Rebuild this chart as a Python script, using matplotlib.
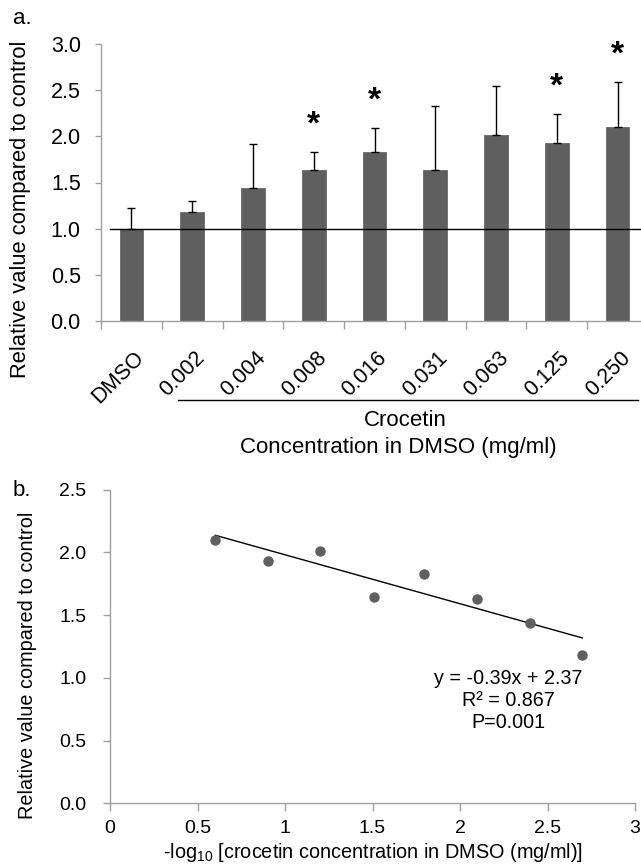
import numpy as np
import matplotlib
matplotlib.use("Agg")
import matplotlib.pyplot as plt
from matplotlib.lines import Line2D
from matplotlib.transforms import ScaledTranslation

plt.rcParams['font.family'] = ['Liberation Sans', 'DejaVu Sans']
plt.rcParams['mathtext.default'] = 'regular'

# ---- data (panel a) ----
categories = ["DMSO", "0.002", "0.004", "0.008", "0.016", "0.031", "0.063", "0.125", "0.250"]
concentrations = [0.002, 0.004, 0.008, 0.016, 0.031, 0.063, 0.125, 0.250]
means = [1.00, 1.18, 1.44, 1.63, 1.83, 1.64, 2.01, 1.93, 2.10]
err_top = [1.22, 1.30, 1.92, 1.83, 2.09, 2.33, 2.55, 2.24, 2.59]
significant = ["0.008", "0.016", "0.125", "0.250"]

# ---- data (panel b) ----
slope = -0.39
intercept = 2.37
r2_text = "0.867"
p_text = "0.001"

W, H = 641, 865
fig = plt.figure(figsize=(W / 100, H / 100), dpi=100)

def px_axes(left, top, right, bottom):
    return fig.add_axes([left / W, 1 - bottom / H, (right - left) / W, (bottom - top) / H])

spine_col = '#a0a0a0'
bar_col = '#5f5f5f'

# ---------------- panel a ----------------
ax = px_axes(101, 44, 648, 321)
x = np.arange(len(categories))
yerr = [np.zeros(len(means)), np.array(err_top) - np.array(means)]
ax.bar(x, means, width=0.39, color=bar_col, edgecolor='#6a6a6a', linewidth=0.6, zorder=2)
ax.errorbar(x, means, yerr=yerr, fmt='none', ecolor='black', elinewidth=1.0,
            capsize=2.8, capthick=1.0, zorder=3)
ax.axhline(1.0, xmin=0.016, xmax=1, color='black', lw=1.0, zorder=4)

for i, c in enumerate(categories):
    if c in significant:
        ax.annotate('*', xy=(i, err_top[i]), xytext=(0, 8), textcoords='offset points',
                    ha='center', va='bottom', fontsize=24, fontweight='bold')

ax.set_xlim(-0.5, len(categories) - 0.5)
ax.set_ylim(0, 3.0)
ax.set_yticks(np.arange(0, 3.01, 0.5))
ax.set_yticklabels([f"{v:.1f}" for v in np.arange(0, 3.01, 0.5)], fontsize=15.5)
ax.set_xticks(x)
ax.set_xticklabels(categories, rotation=45, ha='right', va='top',
                   rotation_mode='anchor', fontsize=15.5)
ax.set_xticks(np.arange(-0.5, len(categories) + 0.5, 1), minor=True)
ax.tick_params(axis='x', which='major', length=0, pad=19)
ax.tick_params(axis='x', which='minor', length=6, color=spine_col, width=1)
ax.tick_params(axis='y', length=4, color=spine_col, width=1, pad=10.5)
offset = ScaledTranslation(2 / 100, 0, fig.dpi_scale_trans)
for lab in ax.get_xticklabels():
    lab.set_transform(lab.get_transform() + offset)
for s in ['top', 'right']:
    ax.spines[s].set_visible(False)
for s in ['left', 'bottom']:
    ax.spines[s].set_color(spine_col)
    ax.spines[s].set_linewidth(1.0)

ax.set_ylabel("Relative value compared to control", fontsize=15.8)
ax.yaxis.set_label_coords(-0.128, 0.405)

ax.add_line(Line2D([0.141, 0.982], [-0.285, -0.285], transform=ax.transAxes,
                   color='black', lw=1.0, clip_on=False))
ax.text(0.556, -0.360, "Crocetin", transform=ax.transAxes, ha='center', va='center', fontsize=16)
ax.text(0.543, -0.455, "Concentration in DMSO (mg/ml)", transform=ax.transAxes,
        ha='center', va='center', fontsize=16)

fig.text(22 / W, 1 - 19 / H, "a.", ha='center', va='center', fontsize=16)

# ---------------- panel b ----------------
bx = px_axes(110, 489.5, 635, 803.3)
xs = -np.log10(np.array(concentrations))
ys = np.array(means[1:])
bx.plot(xs, ys, 'o', color=bar_col, markersize=6.5, zorder=3)
xl = np.array([xs.min(), xs.max()])
bx.plot(xl, slope * xl + intercept, color='black', lw=1.0, zorder=2)

bx.set_xlim(0, 3)
bx.set_ylim(0, 2.5)
bx.set_xticks([0, 0.5, 1, 1.5, 2, 2.5, 3])
bx.set_xticklabels(["0", "0.5", "1", "1.5", "2", "2.5", "3"], fontsize=14)
bx.set_yticks(np.arange(0, 2.51, 0.5))
bx.set_yticklabels([f"{v:.1f}" for v in np.arange(0, 2.51, 0.5)], fontsize=14)
bx.tick_params(axis='x', length=6, color=spine_col, width=1, pad=6)
bx.tick_params(axis='y', length=5, color=spine_col, width=1, pad=12)
for s in ['top', 'right']:
    bx.spines[s].set_visible(False)
for s in ['left', 'bottom']:
    bx.spines[s].set_color(spine_col)
    bx.spines[s].set_linewidth(1.0)

bx.set_ylabel("Relative value compared to control", fontsize=14.3)
bx.yaxis.set_label_coords(-0.139, 0.441)
bx.set_xlabel(r"-log$_{10}$ [crocetin concentration in DMSO (mg/ml)]", fontsize=14.3, labelpad=3)

eq = f"y = {slope:.2f}x + {intercept:.2f}\nR² = {r2_text}\nP={p_text}"
bx.text(2.274, 0.818, eq, ha='center', va='center', fontsize=14.2, linespacing=1.2)

fig.text(22 / W, 1 - 490 / H, "b.", ha='center', va='center', fontsize=16)

fig.savefig("out.png", dpi=100)
